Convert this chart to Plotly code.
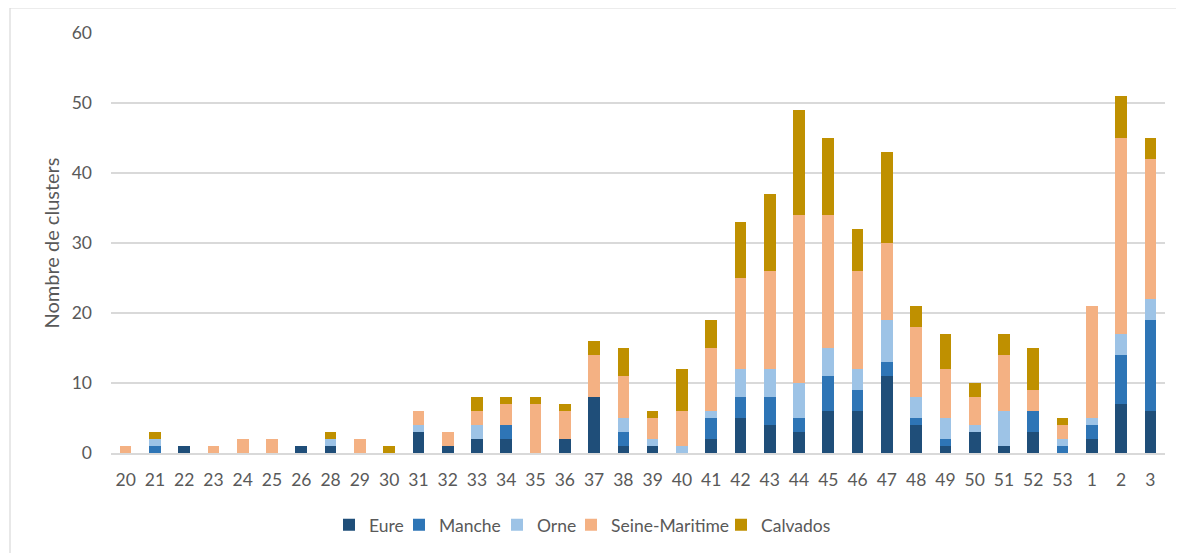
import plotly.graph_objects as go

weeks = ["20", "21", "22", "23", "24", "25", "26", "28", "29", "30",
         "31", "32", "33", "34", "35", "36", "37", "38", "39", "40",
         "41", "42", "43", "44", "45", "46", "47", "48", "49", "50",
         "51", "52", "53", "1", "2", "3"]

eure = [0, 0, 1, 0, 0, 0, 1, 1, 0, 0,
        3, 1, 2, 2, 0, 2, 8, 1, 1, 0,
        2, 5, 4, 3, 6, 6, 11, 4, 1, 3,
        1, 3, 0, 2, 7, 6]
manche = [0, 1, 0, 0, 0, 0, 0, 0, 0, 0,
          0, 0, 0, 2, 0, 0, 0, 2, 0, 0,
          3, 3, 4, 2, 5, 3, 2, 1, 1, 0,
          0, 3, 1, 2, 7, 13]
orne = [0, 1, 0, 0, 0, 0, 0, 1, 0, 0,
        1, 0, 2, 0, 0, 0, 0, 2, 1, 1,
        1, 4, 4, 5, 4, 3, 6, 3, 3, 1,
        5, 0, 1, 1, 3, 3]
seine_maritime = [1, 0, 0, 1, 2, 2, 0, 0, 2, 0,
                  2, 2, 2, 3, 7, 4, 6, 6, 3, 5,
                  9, 13, 14, 24, 19, 14, 11, 10, 7, 4,
                  8, 3, 2, 16, 28, 20]
calvados = [0, 1, 0, 0, 0, 0, 0, 1, 0, 1,
            0, 0, 2, 1, 1, 1, 2, 4, 1, 6,
            4, 8, 11, 15, 11, 6, 13, 3, 5, 2,
            3, 6, 1, 0, 6, 3]

series = [
    ("Eure", eure, "#1F4E79"),
    ("Manche", manche, "#2E75B6"),
    ("Orne", orne, "#9DC3E6"),
    ("Seine-Maritime", seine_maritime, "#F4B183"),
    ("Calvados", calvados, "#BF9000"),
]

FONT = "Lato"
TXT = "#595959"
FS = 17.5

# page body has an 8px offset; plot area on screen: x 111..1165, y 33..453
W, H = 1176, 545
L, T = 103, 25
PW, PH = 1054, 420
R = W - L - PW
B = H - T - PH
SCREEN_L = 111

# on-screen left edge of each legend entry (one legend per series)
legend_left_px = [329, 399, 497, 571, 721]

fig = go.Figure()
legend_layouts = {}
for i, (name, vals, col) in enumerate(series):
    lname = "legend" if i == 0 else f"legend{i + 1}"
    fig.add_trace(go.Bar(
        x=weeks, y=vals, name=name, legend=lname,
        marker=dict(color=col, line=dict(width=0)),
    ))
    legend_layouts[lname] = dict(
        orientation="h",
        x=(legend_left_px[i] - SCREEN_L) / PW, xanchor="left",
        y=-0.171, yanchor="middle",
        bgcolor="rgba(0,0,0,0)",
        font=dict(family=FONT, size=FS, color=TXT),
        itemwidth=30,
    )

fig.update_layout(
    width=W, height=H,
    barmode="stack",
    bargap=0.6,
    margin=dict(l=L, r=R, t=T, b=B, autoexpand=False),
    paper_bgcolor="white",
    plot_bgcolor="white",
    font=dict(family=FONT, size=FS, color=TXT),
    showlegend=True,
    xaxis=dict(
        type="category",
        categoryorder="array",
        categoryarray=weeks,
        showgrid=False,
        showline=True,
        linecolor="#D9D9D9",
        linewidth=1.5,
        ticks="",
        ticklabelstandoff=10,
        tickfont=dict(family=FONT, size=FS, color=TXT),
        tickangle=0,
    ),
    yaxis=dict(
        range=[0, 60],
        dtick=10,
        showgrid=True,
        gridcolor="#D9D9D9",
        gridwidth=1.5,
        zeroline=False,
        showline=False,
        ticks="",
        ticklabelstandoff=18,
        tickfont=dict(family=FONT, size=FS, color=TXT),
        title=dict(text="Nombre de clusters",
                   font=dict(family=FONT, size=20, color=TXT),
                   standoff=6),
    ),
    **legend_layouts,
)

# outer chart border
fig.add_shape(
    type="rect", xref="paper", yref="paper",
    x0=(2 - L) / PW, x1=(1200 - L) / PW,
    y0=(T + PH - 600) / PH, y1=(T + PH - 0) / PH,
    line=dict(color="#D9D9D9", width=1.2),
    fillcolor="rgba(0,0,0,0)",
    layer="below",
)

fig.write_html("out.html")
